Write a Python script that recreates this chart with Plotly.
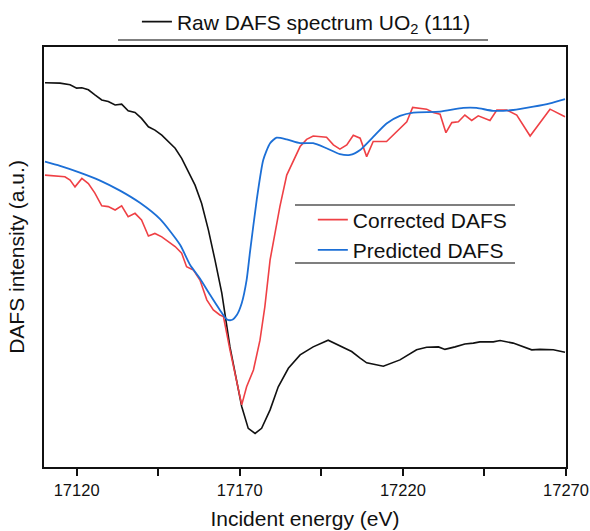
import plotly.graph_objects as go

# ---- data (intensity in arbitrary units) ----
raw_e = [17110.3, 17114.9, 17118.0, 17120.0, 17121.6, 17123.6, 17125.6, 17127.7, 17129.7,
         17131.8, 17133.8, 17135.8, 17137.9, 17139.9, 17142.0, 17144.0, 17146.1, 17148.1,
         17150.2, 17152.2, 17154.2, 17156.3, 17158.3, 17160.4, 17162.4, 17164.5, 17167.0,
         17170.6, 17172.6, 17174.7, 17176.7, 17179.3, 17181.8, 17184.9, 17188.5, 17192.5,
         17197.1, 17201.7, 17204.3, 17206.9, 17208.9, 17214.0, 17219.1, 17224.2, 17227.3,
         17230.9, 17232.9, 17236.0, 17239.0, 17241.6, 17243.6, 17247.7, 17249.8, 17253.8,
         17256.9, 17259.5, 17262.0, 17266.1, 17269.7]
raw_i = [0.915, 0.914, 0.910, 0.902, 0.903, 0.898, 0.886, 0.874, 0.870,
         0.862, 0.864, 0.848, 0.844, 0.830, 0.810, 0.802, 0.790, 0.775,
         0.759, 0.735, 0.703, 0.671, 0.628, 0.564, 0.493, 0.414, 0.286,
         0.144, 0.092, 0.080, 0.092, 0.136, 0.191, 0.235, 0.267, 0.286,
         0.302, 0.285, 0.275, 0.259, 0.248, 0.240, 0.255, 0.279, 0.285,
         0.286, 0.280, 0.286, 0.293, 0.295, 0.298, 0.298, 0.301, 0.295,
         0.286, 0.279, 0.280, 0.279, 0.273]

corr_e = [17110.3, 17113.9, 17116.4, 17118.0, 17119.5, 17121.6, 17123.6, 17125.6, 17127.7,
          17129.7, 17131.8, 17133.8, 17135.8, 17137.9, 17139.9, 17142.0, 17144.0, 17146.1,
          17148.1, 17150.2, 17152.2, 17153.7, 17155.8, 17157.8, 17159.9, 17161.9, 17163.9,
          17165.0, 17167.0, 17170.6, 17172.1, 17174.2, 17176.2, 17177.7, 17179.3, 17182.3,
          17184.4, 17186.4, 17188.5, 17190.5, 17192.5, 17196.6, 17198.7, 17200.7, 17202.8,
          17204.8, 17206.9, 17208.9, 17210.9, 17215.0, 17218.1, 17221.2, 17223.0, 17227.3,
          17229.3, 17231.4, 17233.2, 17235.0, 17237.0, 17239.0, 17241.1, 17243.1, 17246.7,
          17248.8, 17251.8, 17254.9, 17259.0, 17265.1, 17269.7]
corr_i = [0.695, 0.693, 0.691, 0.683, 0.667, 0.687, 0.675, 0.652, 0.622,
          0.620, 0.612, 0.622, 0.596, 0.604, 0.588, 0.550, 0.556, 0.548,
          0.536, 0.525, 0.509, 0.477, 0.469, 0.445, 0.398, 0.374, 0.362,
          0.358, 0.279, 0.148, 0.191, 0.231, 0.302, 0.382, 0.493, 0.620,
          0.695, 0.727, 0.763, 0.780, 0.788, 0.785, 0.767, 0.757, 0.767,
          0.790, 0.783, 0.739, 0.775, 0.775, 0.798, 0.822, 0.856, 0.852,
          0.844, 0.840, 0.796, 0.820, 0.822, 0.838, 0.825, 0.836, 0.825,
          0.850, 0.850, 0.838, 0.788, 0.852, 0.834]

pred_e = [17110.3, 17114.9, 17121.0, 17127.2, 17133.3, 17139.4, 17145.6, 17151.7, 17154.8,
          17157.8, 17160.9, 17163.9, 17166.0, 17167.5, 17169.1, 17170.6, 17172.1, 17173.1,
          17175.2, 17177.2, 17179.3, 17181.3, 17184.4, 17188.5, 17192.5, 17196.6, 17200.7,
          17203.8, 17206.9, 17210.9, 17215.0, 17219.1, 17223.2, 17231.4, 17238.5, 17242.6,
          17247.7, 17253.8, 17260.0, 17265.1, 17269.7]
pred_i = [0.727, 0.717, 0.701, 0.682, 0.658, 0.629, 0.590, 0.529, 0.481,
          0.449, 0.410, 0.374, 0.352, 0.350, 0.362, 0.390, 0.445, 0.509,
          0.636, 0.731, 0.771, 0.784, 0.780, 0.771, 0.771, 0.759, 0.745,
          0.743, 0.755, 0.786, 0.818, 0.836, 0.844, 0.846, 0.855, 0.855,
          0.848, 0.850, 0.858, 0.866, 0.876]

x_ticks = [17120, 17170, 17220, 17270]
x_minor = [17145, 17195, 17245]

FONT = "Arial, Liberation Sans, Arimo, sans-serif"

fig = go.Figure()
fig.add_trace(go.Scatter(x=raw_e, y=raw_i, mode="lines", name="Raw DAFS spectrum UO<sub>2</sub> (111)",
                         line=dict(color="#111111", width=1.6), legend="legend", showlegend=True))
fig.add_trace(go.Scatter(x=corr_e, y=corr_i, mode="lines", name="Corrected DAFS",
                         line=dict(color="#EF4045", width=1.6), legend="legend2", showlegend=True))
fig.add_trace(go.Scatter(x=pred_e, y=pred_i, mode="lines", name="Predicted DAFS",
                         line=dict(color="#1C6FD6", width=1.8, shape="spline", smoothing=0.6),
                         legend="legend2", showlegend=True))

fig.update_layout(
    width=590, height=531,
    margin=dict(l=44, r=24, t=47, b=64, autoexpand=False),
    showlegend=True,
    paper_bgcolor="white", plot_bgcolor="white",
    font=dict(family=FONT, color="#111111", size=21),
    legend=dict(x=0.178, y=1.0595, xanchor="left", yanchor="middle",
                bgcolor="rgba(0,0,0,0)", font=dict(size=21, family=FONT)),
    legend2=dict(x=0.515, y=0.5524, xanchor="left", yanchor="middle",
                 bgcolor="rgba(0,0,0,0)", font=dict(size=21, family=FONT)),
    shapes=[
        dict(type="line", xref="paper", yref="paper", x0=0.1418, x1=0.8506, y0=1.0167, y1=1.0167,
             line=dict(color="#000000", width=1.2)),
        dict(type="line", xref="paper", yref="paper", x0=0.4808, x1=0.9023, y0=0.6238, y1=0.6238,
             line=dict(color="#000000", width=1.2)),
        dict(type="line", xref="paper", yref="paper", x0=0.4808, x1=0.9023, y0=0.4857, y1=0.4857,
             line=dict(color="#000000", width=1.2)),
    ],
)

fig.update_xaxes(
    range=[17110, 17270], showgrid=False, zeroline=False,
    showline=True, linecolor="#111111", linewidth=2, mirror=True,
    ticks="outside", ticklen=7, tickwidth=1.5, tickcolor="#111111",
    tickmode="array", tickvals=x_ticks, ticktext=[str(v) for v in x_ticks],
    tickfont=dict(size=16.5, family=FONT, color="#111111"),
    minor=dict(tickvals=x_minor, ticks="outside", ticklen=7, tickwidth=1.5, tickcolor="#111111"),
    title=dict(text="Incident energy (eV)", font=dict(size=21, family=FONT), standoff=14),
    automargin=False,
)
fig.update_yaxes(
    range=[0, 1], showgrid=False, zeroline=False,
    showline=True, linecolor="#111111", linewidth=2, mirror=True,
    ticks="", showticklabels=False,
    title=dict(text="DAFS intensity (a.u.)", font=dict(size=21, family=FONT), standoff=12),
    automargin=False,
)

# remove the browser's default page margin so the 590x531 figure fills the window exactly
fig.write_html("out.html",
               config={"displayModeBar": False},
               post_script="document.body.style.margin='0';document.body.style.overflow='hidden';")
